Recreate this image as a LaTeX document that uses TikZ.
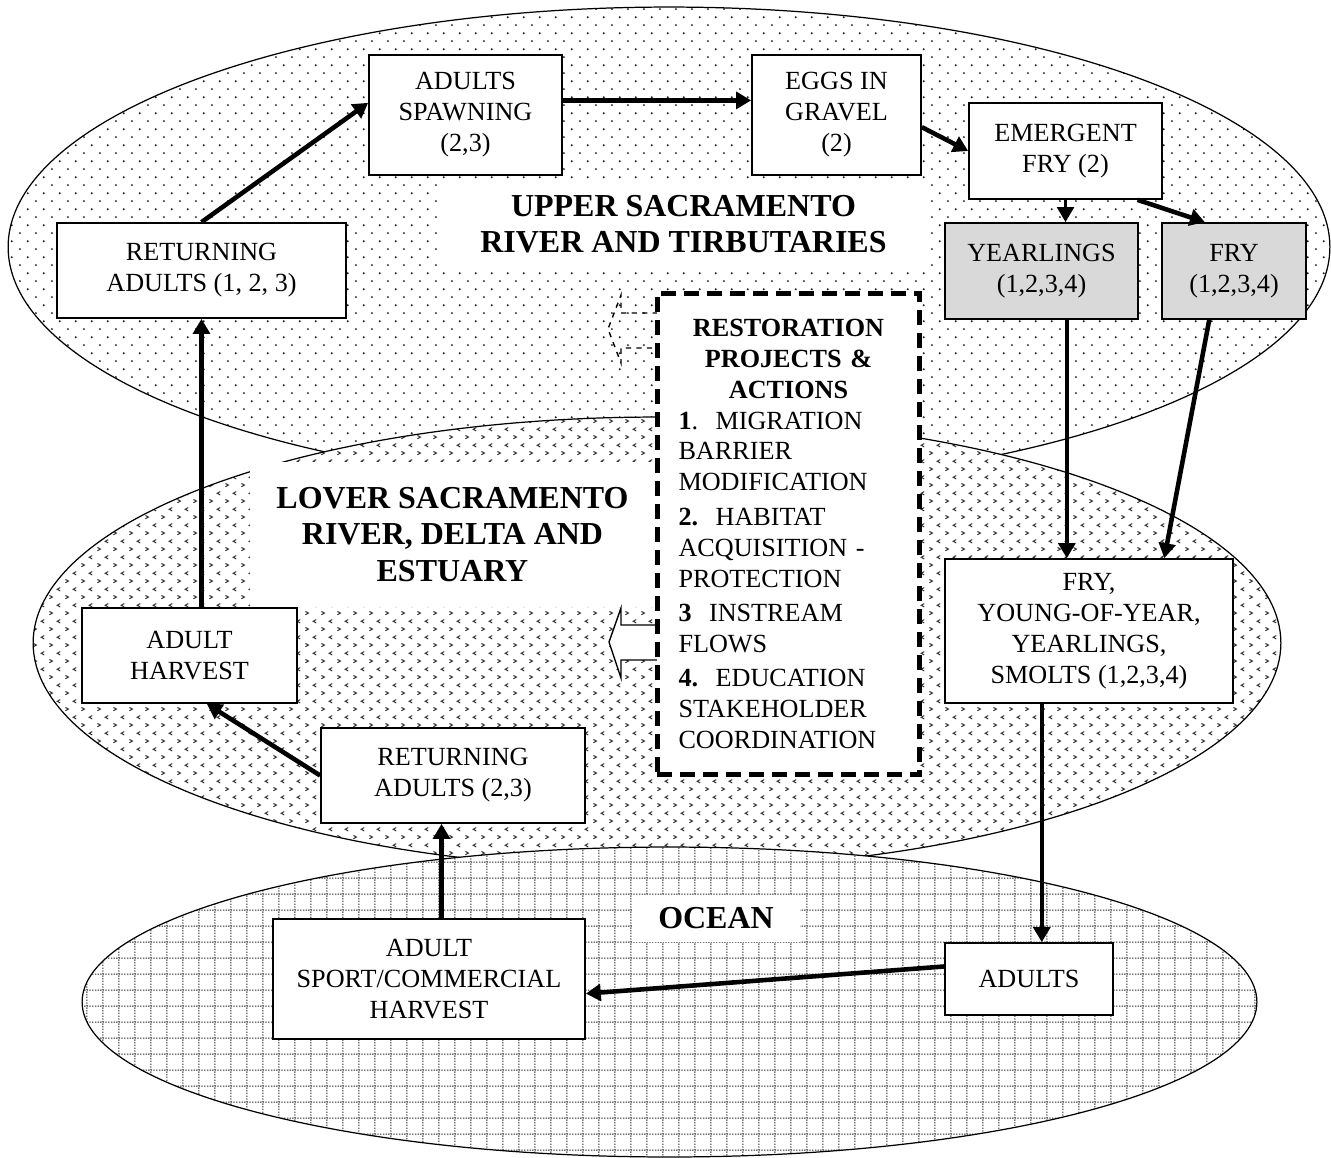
\documentclass[tikz,border=0pt]{standalone}
\usepackage{fontspec}
\setmainfont{Liberation Serif}
\usetikzlibrary{arrows.meta, calc, patterns}

% fills of the three zones
\pgfdeclarepatternformonly{sparsedots}{\pgfqpoint{0pt}{0pt}}{\pgfqpoint{9pt}{9pt}}{\pgfqpoint{9pt}{9pt}}{%
  \pgfpathcircle{\pgfqpoint{2.25pt}{2.25pt}}{0.6pt}%
  \pgfpathcircle{\pgfqpoint{6.75pt}{6.75pt}}{0.6pt}%
  \pgfusepath{fill}}
\pgfdeclarepatternformonly{chevrons}{\pgfqpoint{0pt}{0pt}}{\pgfqpoint{9pt}{9pt}}{\pgfqpoint{9pt}{9pt}}{%
  \pgfsetlinewidth{0.6pt}%
  \pgfpathmoveto{\pgfqpoint{1.4pt}{3.2pt}}\pgfpathlineto{\pgfqpoint{3.1pt}{2.25pt}}\pgfpathlineto{\pgfqpoint{1.4pt}{1.3pt}}%
  \pgfpathmoveto{\pgfqpoint{7.6pt}{7.7pt}}\pgfpathlineto{\pgfqpoint{5.9pt}{6.75pt}}\pgfpathlineto{\pgfqpoint{7.6pt}{5.8pt}}%
  \pgfusepath{stroke}}
\pgfdeclarepatternformonly{dottedgrid}{\pgfqpoint{0pt}{0pt}}{\pgfqpoint{9pt}{9pt}}{\pgfqpoint{9pt}{9pt}}{%
  \pgfsetlinewidth{0.6pt}\pgfsetdash{{0.75pt}{0.75pt}}{0pt}%
  \pgfpathmoveto{\pgfqpoint{0pt}{4.5pt}}\pgfpathlineto{\pgfqpoint{9pt}{4.5pt}}%
  \pgfpathmoveto{\pgfqpoint{4.5pt}{0pt}}\pgfpathlineto{\pgfqpoint{4.5pt}{9pt}}%
  \pgfusepath{stroke}}

\begin{document}
\begin{tikzpicture}[
    x=0.02cm, y=-0.02cm,
    edge/.style={-{Triangle[length=8.5pt, width=9.5pt]}, line width=2.6pt},
    zone/.style={draw, line width=0.7pt, preaction={fill=white}},
    box/.style={rectangle, draw, line width=1pt, fill=white, align=center, inner sep=2pt, font=\fontsize{14.9}{17.6}\selectfont},
    graybox/.style={box, fill=gray!30},
    zonetitle/.style={rectangle, fill=white, inner sep=0pt, align=center, font=\fontsize{18.2}{20.6}\selectfont\bfseries},
    actionbox/.style={rectangle, draw, line width=0.1cm, dash pattern=on 0.3cm off 0.16cm, fill=white, minimum width=5.26cm, minimum height=9.64cm, text width=4.4cm, align=left, inner sep=0pt, font=\fontsize{14.9}{17.6}\selectfont},
    hollow/.style={line width=0.8pt}
]

\useasboundingbox (0,0) rectangle (1331,1157);

% Zones
\path[zone, pattern=sparsedots, pattern color=black!85] (669,247) ellipse [x radius=13.22cm, y radius=4.8cm];
\path[zone, pattern=chevrons, pattern color=black!80] (657,643) ellipse [x radius=12.48cm, y radius=4.52cm];
\path[zone, pattern=dottedgrid, pattern color=black!85] (669.5,1002) ellipse [x radius=11.75cm, y radius=3.1cm];

% Zone titles
\node[zonetitle, minimum width=9.66cm, minimum height=1.76cm] (uppertitle) at (683.5,224) {UPPER SACRAMENTO\\RIVER AND TIRBUTARIES};
\node[zonetitle, minimum width=8.1cm, minimum height=2.9cm] (lowertitle) at (452.5,534.5) {LOVER SACRAMENTO\\RIVER, DELTA AND\\ESTUARY};
\node[zonetitle, minimum width=3.36cm, minimum height=0.94cm] (oceantitle) at (716,918.5) {OCEAN};

% Hollow arrows out of the action box
\draw[hollow, dashed] (658,313) -- (621,313) -- (621,295) -- (608,329) -- (621,363) -- (621,348) -- (658,348);
\draw[hollow, fill=white] (658,625) -- (621,625) -- (621,608) -- (609,642) -- (621,678) -- (621,660) -- (658,660);

% Restoration projects
\node[actionbox] (actions) at (788.5,534) {{\centering\bfseries RESTORATION\\PROJECTS \&\\ACTIONS\par}
\textbf{1}.\ \ MIGRATION\\
BARRIER\\
MODIFICATION\\[2pt]
\textbf{2.}\ \ HABITAT\\
ACQUISITION -\\
PROTECTION\\[2pt]
\textbf{3}\ \ INSTREAM\\
FLOWS\\[2pt]
\textbf{4.}\ \ EDUCATION\\
STAKEHOLDER\\
COORDINATION};

% Upper river
\node[box, minimum width=5.78cm, minimum height=1.9cm] (retadults) at (201.5,270.5) {RETURNING\\ADULTS (1, 2, 3)};
\node[box, minimum width=3.86cm, minimum height=2.4cm] (spawning) at (465.5,115) {ADULTS\\SPAWNING\\(2,3)};
\node[box, minimum width=3.38cm, minimum height=2.4cm] (eggs) at (836.5,115) {EGGS IN\\GRAVEL\\(2)};
\node[box, minimum width=3.86cm, minimum height=1.92cm] (emergent) at (1065.5,151) {EMERGENT\\FRY (2)};
\node[graybox, minimum width=3.86cm, minimum height=1.92cm] (yearlings) at (1041.5,271) {YEARLINGS\\(1,2,3,4)};
\node[graybox, minimum width=2.88cm, minimum height=1.92cm] (fry) at (1234,271) {FRY\\(1,2,3,4)};

% Lower river, delta and estuary
\node[box, minimum width=5.76cm, minimum height=2.88cm] (fryyoung) at (1089,631) {FRY,\\YOUNG-OF-YEAR,\\YEARLINGS,\\SMOLTS (1,2,3,4)};
\node[box, minimum width=4.3cm, minimum height=1.9cm] (harvest) at (189.5,655.5) {ADULT\\HARVEST};
\node[box, minimum width=5.28cm, minimum height=1.9cm] (retadultstwo) at (453,775.5) {RETURNING\\ADULTS (2,3)};

% Ocean
\node[box, minimum width=3.36cm, minimum height=1.44cm] (adults) at (1029,979) {ADULTS};
\node[box, minimum width=6.24cm, minimum height=2.4cm] (sport) at (429,979) {ADULT\\SPORT/COMMERCIAL\\HARVEST};

% Connections
\coordinate (ydrop) at ($(yearlings.south west)!0.63!(yearlings.south east)$);
\coordinate (sdrop) at ($(fryyoung.south west)!0.337!(fryyoung.south east)$);
\coordinate (srise) at ($(sport.north west)!0.54!(sport.north east)$);

\draw[edge] (retadults.north) -- ($(spawning.north west)!0.4!(spawning.south west)$);
\draw[edge] ($(spawning.north east)!0.38!(spawning.south east)$) -- ($(eggs.north west)!0.38!(eggs.south west)$);
\draw[edge] ($(eggs.north east)!0.6!(eggs.south east)$) -- (emergent.west);
\draw[edge, line width=1.7pt] (emergent.south) -- (emergent.south |- yearlings.north);
\draw[edge] ($(emergent.south west)!0.87!(emergent.south east)$) -- ($(fry.north west)!0.3!(fry.north east)$);
\draw[edge] (ydrop) -- (ydrop |- fryyoung.north);
\draw[edge] ($(fry.south west)!0.33!(fry.south east)$) -- ($(fryyoung.north west)!0.76!(fryyoung.north east)$);
\draw[edge] (sdrop) -- (sdrop |- adults.north);
\draw[edge] ($(adults.north west)!0.33!(adults.south west)$) -- ($(sport.north east)!0.62!(sport.south east)$);
\draw[edge] (srise) -- (srise |- retadultstwo.south);
\draw[edge] (retadultstwo.west) -- ($(harvest.south west)!0.58!(harvest.south east)$);
\draw[edge] (harvest.north -| retadults.south) -- (retadults.south);

\end{tikzpicture}
\end{document}
